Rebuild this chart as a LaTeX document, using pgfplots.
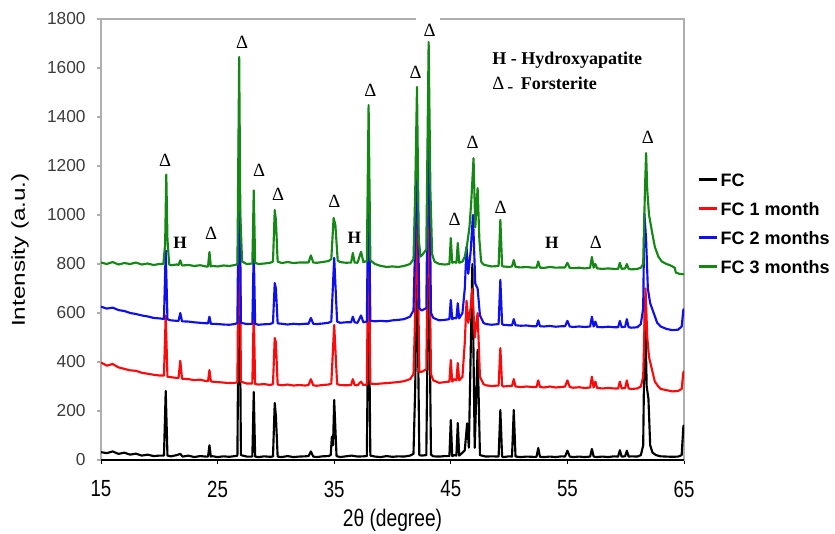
\documentclass[border=0pt]{standalone}
\usepackage{fontspec}
\setmainfont{Liberation Sans}
\newfontfamily\serifb{Liberation Serif}
\newfontfamily\narrowsans[FakeStretch=0.8]{Liberation Sans}
\newfontfamily\widesans[FakeStretch=1.3]{Liberation Sans}
\usepackage{pgfplots}
\pgfplotsset{compat=1.18}
\definecolor{fcred}{RGB}{250,10,10}
\definecolor{fcblue}{RGB}{15,15,235}
\definecolor{fcgreen}{RGB}{20,135,20}
\definecolor{framegray}{RGB}{175,175,175}
\definecolor{ticktext}{RGB}{60,60,60}
\tikzset{fors/.style={font=\serifb\fontsize{14}{14}\selectfont, inner sep=0pt},
         hyd/.style={font=\serifb\bfseries\fontsize{13}{13}\selectfont, inner sep=0pt}}
\begin{document}
\begin{tikzpicture}
\begin{axis}[
  scale only axis,
  width=437.25pt, height=330.75pt,
  xmin=15, xmax=65, ymin=0, ymax=1800,
  xtick={15,25,35,45,55,65},
  ytick={0,200,...,1800},
  /pgf/number format/assume math mode=true,
  /pgf/number format/1000 sep={},
  tick align=outside,
  xtick pos=bottom, ytick pos=left,
  major tick length=3pt,
  x tick style={black, line width=0.6pt},
  y tick style={framegray, line width=0.8pt},
  axis line style={framegray, line width=0.9pt},
  x tick label style={font=\narrowsans\fontsize{17.5}{19}\selectfont, yshift=-9pt},
  y tick label style={font=\fontsize{13}{15}\selectfont, text=ticktext, xshift=-5pt},
  xlabel={2θ (degree)},
  ylabel={Intensity (a.u.)},
  x label style={font=\narrowsans\fontsize{18}{20}\selectfont, at={(axis description cs:0.5,-0.136)}, anchor=center},
  y label style={font=\widesans\fontsize{14}{16}\selectfont, at={(axis description cs:-0.139,0.476)}, anchor=center},
  legend style={at={(1.022,0.655)}, anchor=north west, draw=none, fill=none, inner sep=0pt,
    font=\bfseries\fontsize{13.5}{15}\selectfont, row sep=9pt,
    nodes={inner sep=1.5pt, text height=9.7pt, text depth=0pt}},
  legend cell align=left,
  legend image code/.code={\draw[#1, line width=2.2pt] (0pt,0pt) -- (14pt,0pt);},
  every axis plot/.append style={line width=1.6pt, line join=round},
]
% FC
\addplot[black] coordinates {
(15,32) (15.5,28) (16,35) (16.5,25) (17,30) (17.5,22) (18,26) (18.5,18) (19,22) (19.5,16) (20,18)
(20.4,18) (20.55,282) (20.7,18)
(21,15) (21.5,20) (21.8,25) (22,14) (22.5,18) (23,12) (23.5,16) (24,14)
(24.18,14) (24.3,60) (24.42,14)
(24.5,16) (25,12) (25.5,15) (26,13) (26.5,16)
(26.7,18) (26.85,1000) (27.0,20)
(27.5,14)
(27.98,14) (28.1,278) (28.22,14)
(28.5,12) (29,15) (29.5,13)
(29.75,14) (29.9,233) (30.0,180) (30.15,14)
(30.5,12) (31,16) (31.5,12) (32,14) (32.5,15)
(32.8,16) (33.0,35) (33.2,14)
(33.5,12) (34,15) (34.5,16)
(34.7,20) (34.8,95) (34.9,60) (35.0,245) (35.2,16)
(35.5,12) (36,15) (36.5,18) (37,14) (37.5,15)
(37.8,16) (37.95,750) (38.1,18)
(38.5,14) (39,12) (39.5,16) (40,13) (40.5,15) (41,14) (41.5,18)
(41.8,25) (41.95,300) (42.1,850) (42.3,20)
(42.5,18)
(42.9,20) (43.1,900) (43.3,22)
(43.5,15) (44,14) (44.5,16)
(44.88,16) (45.0,163) (45.12,16)
(45.3,20)
(45.48,18) (45.6,151) (45.72,18)
(46.0,30) (46.2,40) (46.4,150) (46.55,50) (46.85,800) (47.05,50) (47.3,450) (47.5,20)
(48,14) (48.5,15)
(49.1,14) (49.25,204) (49.4,14)
(49.5,12) (50,15)
(50.25,14) (50.4,204) (50.55,14)
(51,12) (51.5,14) (52,13)
(52.35,13) (52.5,49) (52.65,13)
(53,12) (53.5,14) (54,12) (54.5,15)
(54.8,14) (55.0,38) (55.2,14)
(55.5,12) (56,14) (56.5,12)
(56.95,14) (57.1,45) (57.25,14)
(57.5,12) (58,14) (58.5,12) (59,15)
(59.35,14) (59.5,40) (59.65,14) (59.95,15) (60.1,38) (60.25,14)
(60.5,15) (61,14) (61.3,20)
(61.5,60) (61.65,650) (61.8,300) (61.95,250) (62.1,60) (62.3,30) (62.6,20)
(63,15) (63.5,14) (64,13) (64.5,14) (64.8,20) (64.95,140) (65,140)
};
\addlegendentry{FC}
% FC 1 month
\addplot[fcred] coordinates {
(15,398) (15.5,385) (16,392) (16.5,378) (17,372) (17.5,366) (18,364) (18.5,356) (19,352) (19.5,348) (20,345)
(20.4,345) (20.55,590) (20.7,340)
(21,338) (21.5,335)
(21.65,335) (21.8,405) (21.95,332)
(22.5,330) (23,326) (23.5,328) (24,322)
(24.18,322) (24.3,367) (24.42,322)
(24.5,320) (25,318) (25.5,316) (26,314) (26.5,315)
(26.7,318) (26.85,1250) (27.0,320)
(27.5,312)
(27.98,312) (28.1,612) (28.22,310)
(28.5,308) (29,310) (29.5,306)
(29.75,310) (29.9,498) (30.0,480) (30.15,308)
(30.5,305) (31,308) (31.5,304) (32,306) (32.5,304)
(32.8,306) (33.0,330) (33.2,305)
(33.5,303) (34,306) (34.5,308)
(34.75,312) (35.0,551) (35.25,310)
(35.5,306) (36,305)
(36.45,306) (36.6,330) (36.75,306)
(37,305) (37.3,320) (37.5,306)
(37.8,308) (37.95,1000) (38.1,312)
(38.5,310) (39,312) (39.5,314) (40,316) (40.5,318) (41,322) (41.5,330)
(41.8,350) (41.95,600) (42.1,1050) (42.3,360)
(42.5,360)
(42.9,370) (43.1,1150) (43.3,350)
(43.5,325) (44,315) (44.5,318)
(44.88,320) (45.0,408) (45.12,320)
(45.3,330)
(45.48,325) (45.6,396) (45.72,325)
(46.0,340) (46.2,480) (46.35,650) (46.5,560) (46.7,620) (46.85,700) (47.05,500) (47.3,600) (47.5,340) (47.8,310)
(48,305) (48.5,302)
(49.1,304) (49.25,457) (49.4,304)
(49.5,300) (50,302)
(50.25,302) (50.4,330) (50.55,300)
(51,298) (51.5,300) (52,298)
(52.35,298) (52.5,325) (52.65,298)
(53,296) (53.5,300) (54,296) (54.5,298)
(54.8,300) (55.0,325) (55.2,298)
(55.5,295) (56,297) (56.5,294)
(56.95,296) (57.1,340) (57.25,296) (57.4,320) (57.55,294)
(58,292) (58.5,294) (59,292)
(59.35,292) (59.5,320) (59.65,292) (59.95,294) (60.1,325) (60.25,292)
(60.5,290) (61,292) (61.3,300)
(61.5,340) (61.7,700) (61.85,500) (62.0,420) (62.2,380) (62.5,320) (62.8,300) (63,290)
(63.5,285) (64,280) (64.5,282) (64.8,290) (64.95,360) (65,360)
};
\addlegendentry{FC 1 month}
% FC 2 months
\addplot[fcblue] coordinates {
(15,626) (15.5,618) (16,622) (16.5,612) (17,608) (17.5,600) (18,596) (18.5,590) (19,586) (19.5,580) (20,578)
(20.4,576) (20.55,855) (20.7,574)
(21,570) (21.5,568)
(21.65,568) (21.8,600) (21.95,566)
(22.5,565) (23,562) (23.5,560) (24,558)
(24.18,558) (24.3,585) (24.42,556)
(24.5,556) (25,555) (25.5,553) (26,552) (26.5,555)
(26.7,560) (26.85,1375) (27.0,560)
(27.5,555)
(27.98,556) (28.1,857) (28.22,556)
(28.5,552) (29,554) (29.5,555)
(29.75,560) (29.9,722) (30.0,700) (30.15,558)
(30.5,556) (31,553) (31.5,556) (32,554) (32.5,556)
(32.8,556) (33.0,580) (33.2,556)
(33.5,555) (34,557) (34.5,560)
(34.75,565) (35.0,825) (35.25,565)
(35.5,560) (36,562)
(36.45,562) (36.6,585) (36.75,562) (37,560) (37.3,590) (37.5,562)
(37.8,565) (37.95,1216) (38.1,568)
(38.5,566) (39,568) (39.5,566) (40,570) (40.5,572) (41,575) (41.5,585)
(41.8,610) (41.95,900) (42.1,1294) (42.3,620)
(42.5,610)
(42.9,620) (43.1,1498) (43.3,600)
(43.5,580) (44,570) (44.5,572)
(44.88,575) (45.0,653) (45.12,575)
(45.3,580)
(45.48,578) (45.6,640) (45.72,578)
(46.0,600) (46.2,700) (46.35,870) (46.5,760) (46.7,850) (46.9,1000) (47.1,720) (47.3,700) (47.5,590) (47.8,560)
(48,555) (48.5,552)
(49.1,555) (49.25,735) (49.4,555)
(49.5,552) (50,550)
(50.25,550) (50.4,575) (50.55,550)
(51,548) (51.5,549) (52,546)
(52.35,546) (52.5,570) (52.65,546)
(53,545) (53.5,547) (54,544) (54.5,546)
(54.8,546) (55.0,568) (55.2,545)
(55.5,543) (56,545) (56.5,543)
(56.95,545) (57.1,585) (57.25,545) (57.4,565) (57.55,543)
(58,542) (58.5,544) (59,542)
(59.35,542) (59.5,568) (59.65,542) (59.95,544) (60.1,575) (60.25,542)
(60.5,540) (61,542) (61.3,555)
(61.5,620) (61.6,1008) (61.75,900) (61.9,700) (62.1,640) (62.4,600) (62.7,560) (63,545)
(63.5,535) (64,530) (64.5,532) (64.8,545) (64.95,615) (65,615)
};
\addlegendentry{FC 2 months}
% FC 3 months
\addplot[fcgreen] coordinates {
(15,806) (15.5,800) (16,808) (16.5,798) (17,804) (17.5,800) (18,806) (18.5,798) (19,802) (19.5,796) (20,800)
(20.35,800) (20.5,880) (20.6,1165) (20.7,900) (20.85,798)
(21,795) (21.5,798)
(21.65,796) (21.8,815) (21.95,794)
(22.5,796) (23,792) (23.5,795) (24,790)
(24.18,790) (24.3,849) (24.42,790)
(24.5,792) (25,790) (25.5,794) (26,792) (26.5,796)
(26.7,800) (26.85,1645) (26.95,1000) (27.1,810)
(27.5,800)
(27.98,802) (28.1,1100) (28.22,805)
(28.5,800) (29,802) (29.5,805)
(29.75,810) (29.9,1020) (30.0,980) (30.15,810)
(30.5,804) (31,808) (31.5,804) (32,806) (32.5,806)
(32.8,806) (33.0,835) (33.2,806)
(33.5,805) (34,808) (34.5,812)
(34.75,820) (34.95,988) (35.1,960) (35.3,815)
(35.5,808) (36,805)
(36.45,806) (36.6,845) (36.75,806) (37,805) (37.3,850) (37.5,808)
(37.8,812) (37.95,1449) (38.1,815)
(38.5,800) (39,792) (39.5,788) (40,790) (40.5,788) (41,792) (41.5,800)
(41.8,820) (41.95,1100) (42.1,1523) (42.25,900) (42.4,830)
(42.6,840)
(42.9,860) (43.1,1706) (43.25,1100) (43.4,840)
(43.6,810) (44,800) (44.5,798)
(44.88,800) (45.0,906) (45.12,805)
(45.3,808)
(45.48,805) (45.6,886) (45.72,805)
(46.0,810) (46.2,830) (46.4,880) (46.6,950) (46.75,1050) (46.95,1232) (47.1,950) (47.3,1110) (47.45,900) (47.6,810) (47.8,798)
(48,795) (48.5,790)
(49.1,792) (49.25,980) (49.4,792)
(49.5,790) (50,788)
(50.25,790) (50.4,816) (50.55,788)
(51,786) (51.5,788) (52,785)
(52.35,785) (52.5,810) (52.65,785)
(53,784) (53.5,788) (54,785) (54.5,786)
(54.8,786) (55.0,805) (55.2,784)
(55.5,783) (56,785) (56.5,782)
(56.95,785) (57.1,829) (57.25,785) (57.4,800) (57.55,782)
(58,780) (58.5,782) (59,780)
(59.35,780) (59.5,805) (59.65,780) (59.95,782) (60.1,800) (60.25,780)
(60.5,778) (61,780) (61.3,785)
(61.5,800) (61.65,1100) (61.75,1253) (61.85,1100) (62.0,1000) (62.15,960) (62.3,920) (62.5,870) (62.8,830) (63.1,810) (63.5,800) (63.8,795) (64.0,790) (64.2,785) (64.3,765) (64.6,760) (65,758)
};
\addlegendentry{FC 3 months}
% bottom axis line in black
\draw[black, line width=1pt] (rel axis cs:0,0) -- (rel axis cs:1,0);
% Forsterite markers
\node[fors] at (axis cs:20.5,1224) {Δ};
\node[fors] at (axis cs:24.45,927) {Δ};
\node[fors] at (axis cs:27.11,1706) {Δ};
\node[fors] at (axis cs:28.57,1184) {Δ};
\node[fors] at (axis cs:30.2,1086) {Δ};
\node[fors] at (axis cs:35.02,1057) {Δ};
\node[fors] at (axis cs:38.1,1510) {Δ};
\node[fors] at (axis cs:41.98,1584) {Δ};
\node[fors] at (axis cs:43.18,1755) {Δ};
\node[fors] at (axis cs:45.33,984) {Δ};
\node[fors] at (axis cs:46.87,1298) {Δ};
\node[fors] at (axis cs:49.28,1033) {Δ};
\node[fors] at (axis cs:57.44,890) {Δ};
\node[fors] at (axis cs:61.9,1318) {Δ};
% Hydroxyapatite markers
\node[hyd] at (axis cs:21.79,886) {H};
\node[hyd] at (axis cs:36.74,906) {H};
\node[hyd] at (axis cs:53.66,886) {H};
\node[anchor=west, font=\serifb\bfseries\fontsize{13.5}{14}\selectfont, inner sep=0pt] at (axis cs:48.55,1633) {H - Hydroxyapatite};
\node[anchor=west, font=\serifb\fontsize{13.5}{14}\selectfont, inner sep=0pt] at (axis cs:48.55,1531) {{\fontsize{14}{14}\selectfont Δ}\,\raisebox{-2pt}{-}\, \bfseries Forsterite};
\coordinate (ll) at (rel axis cs:0,0);
\coordinate (ur) at (rel axis cs:1,1);
\coordinate (gapL) at (rel axis cs:0.540,1);
\coordinate (gapR) at (rel axis cs:0.582,1);
\end{axis}
\fill[white] ([yshift=-1.2pt]gapL) rectangle ([yshift=1.2pt]gapR);
\pgfresetboundingbox
\path ([shift={(-75.75pt,-54.75pt)}]ll) rectangle ([shift={(113.25pt,14.25pt)}]ur);
\end{tikzpicture}
\end{document}
